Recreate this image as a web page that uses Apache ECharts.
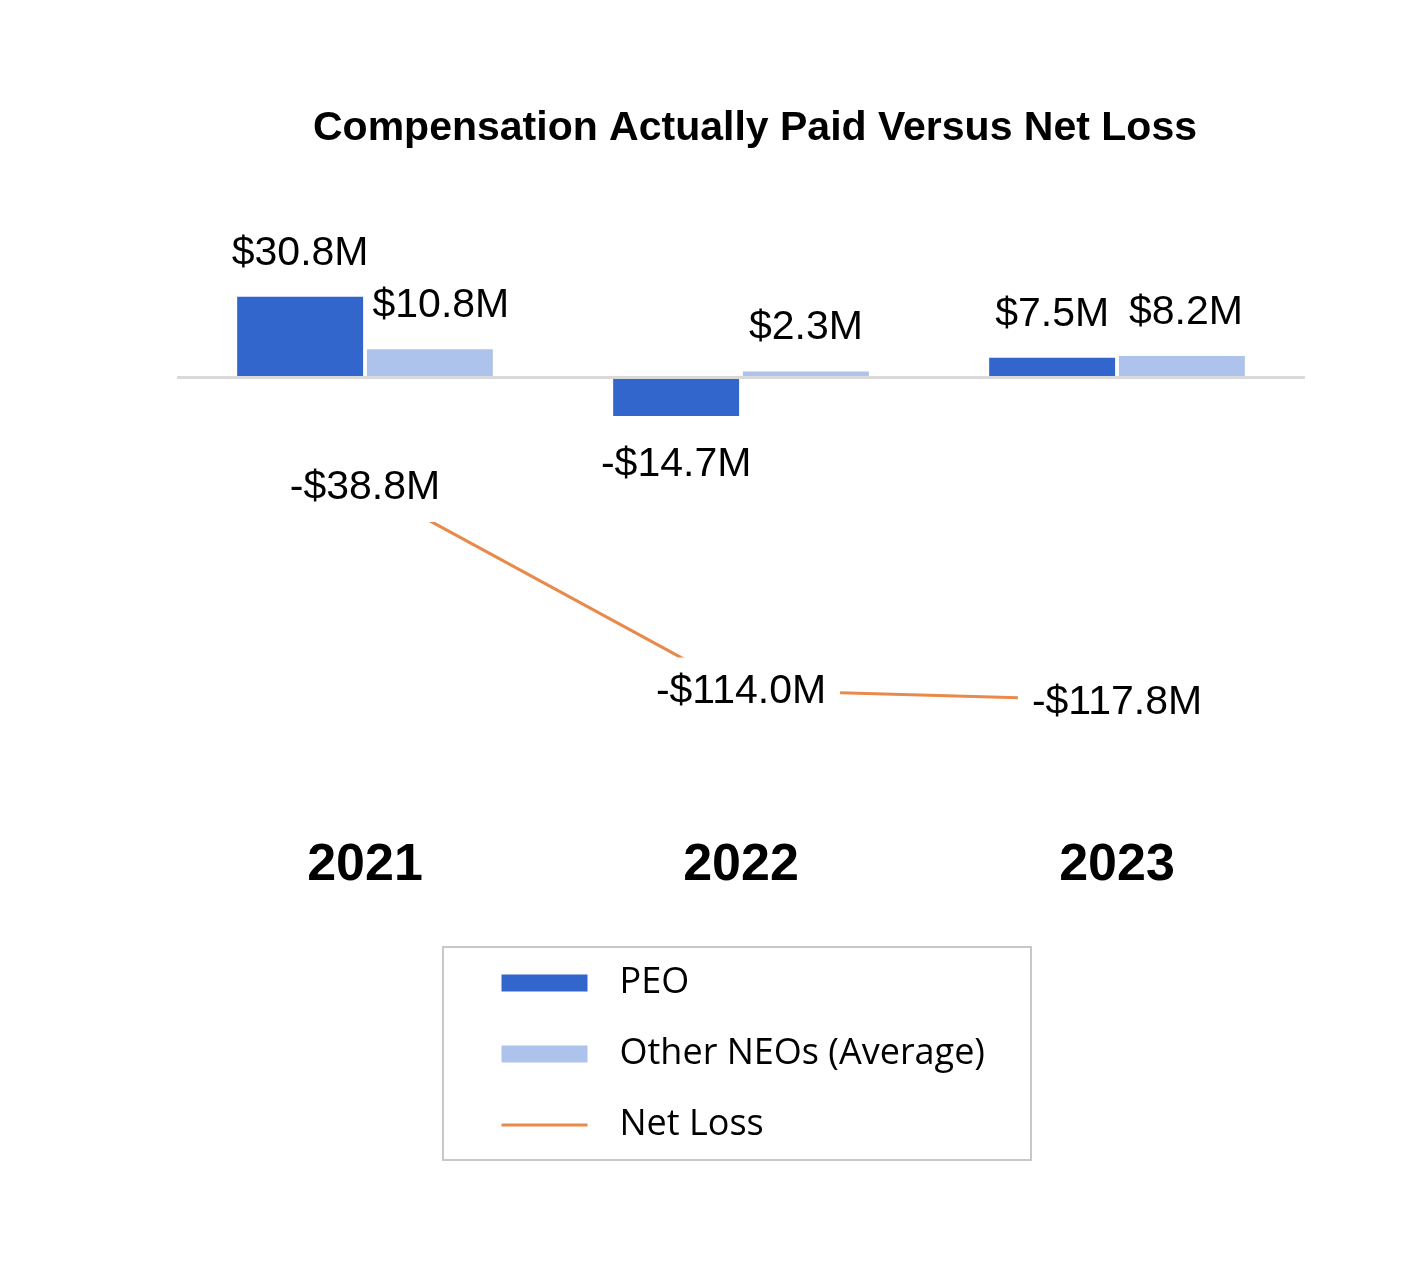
<!DOCTYPE html>
<html>
<head>
<meta charset="utf-8">
<script src="https://cdn.jsdelivr.net/npm/echarts@6/dist/echarts.min.js"></script>
<style>
html,body{margin:0;padding:0;background:#fff;}
#chart{width:1416px;height:1278px;}
</style>
</head>
<body>
<div id="chart"></div>
<script>
const years = ['2021', '2022', '2023'];
const peoValues = [30.8, -14.7, 7.5];
const otherNeoValues = [10.8, 2.3, 8.2];
const netLossValues = [-38.8, -114.0, -117.8];
const seriesNames = ['PEO', 'Other NEOs (Average)', 'Net Loss'];

const fmt = v => (v < 0 ? '-$' : '$') + Math.abs(v).toFixed(1) + 'M';
const labelFont = { fontFamily: 'Liberation Sans, Arial, sans-serif', fontSize: 41, color: '#000' };

function barData(vals, offsets) {
  return vals.map((v, i) => ({
    value: v,
    label: {
      position: v < 0 ? 'bottom' : 'top',
      distance: v < 0 ? 28 : 23,
      offset: offsets ? offsets[i] : [0, 0]
    }
  }));
}

const chart = echarts.init(document.getElementById('chart'), null, { renderer: 'canvas' });
chart.setOption({
  backgroundColor: '#fff',
  animation: false,
  title: {
    text: 'Compensation Actually Paid Versus Net Loss',
    left: 755,
    top: 108,
    padding: 0,
    textAlign: 'center',
    textStyle: {
      fontFamily: 'Liberation Sans, Arial, sans-serif',
      fontWeight: 'bold',
      fontSize: 41,
      color: '#000'
    }
  },
  legend: {
    orient: 'vertical',
    left: 443,
    top: 947,
    padding: [18, 46, 17, 57],
    itemGap: 35,
    itemWidth: 86,
    itemHeight: 17,
    borderColor: '#c8c8c8',
    borderWidth: 2,
    borderRadius: 0,
    textStyle: { fontFamily: 'Open Sans, sans-serif', fontSize: 36, color: '#000', padding: [0, 0, 0, 27] },
    data: [
      { name: seriesNames[0], icon: 'rect' },
      { name: seriesNames[1], icon: 'rect' },
      { name: seriesNames[2], itemStyle: { opacity: 0 }, lineStyle: { width: 3 } }
    ]
  },
  grid: { left: 177, right: 111, top: 200, height: 600 },
  xAxis: {
    type: 'category',
    data: years,
    axisLine: { show: false },
    axisTick: { show: false },
    axisLabel: {
      margin: 40,
      fontFamily: 'Liberation Sans, Arial, sans-serif',
      fontWeight: 'bold',
      fontSize: 52,
      color: '#000'
    }
  },
  yAxis: [
    { type: 'value', min: -161.25, max: 67.75, show: false, splitLine: { show: false } },
    { type: 'value', min: -154.4, max: 66.2, show: false, splitLine: { show: false } }
  ],
  series: [
    {
      name: seriesNames[0],
      type: 'bar',
      data: barData(peoValues),
      barGap: '3%',
      barCategoryGap: '32%',
      itemStyle: { color: '#3366CC' },
      label: { show: true, formatter: p => fmt(p.value), ...labelFont },
      markLine: {
        silent: true,
        symbol: 'none',
        label: { show: false },
        lineStyle: { color: '#d9d9d9', width: 3, type: 'solid' },
        data: [{ yAxis: 0 }]
      }
    },
    {
      name: seriesNames[1],
      type: 'bar',
      data: barData(otherNeoValues, [[11, 0], [0, 0], [4, 0]]),
      barGap: '3%',
      barCategoryGap: '32%',
      itemStyle: { color: '#AEC3EB' },
      label: { show: true, formatter: p => fmt(p.value), ...labelFont }
    },
    {
      name: seriesNames[2],
      type: 'line',
      yAxisIndex: 1,
      data: netLossValues,
      symbol: 'circle',
      symbolSize: 2,
      itemStyle: { color: '#E9894B' },
      lineStyle: { color: '#E9894B', width: 3 },
      label: {
        show: true,
        position: 'inside',
        offset: [0, 2],
        formatter: p => fmt(p.value),
        backgroundColor: '#fff',
        padding: [14, 14],
        ...labelFont
      },
      z: 3
    }
  ]
});
</script>
</body>
</html>
